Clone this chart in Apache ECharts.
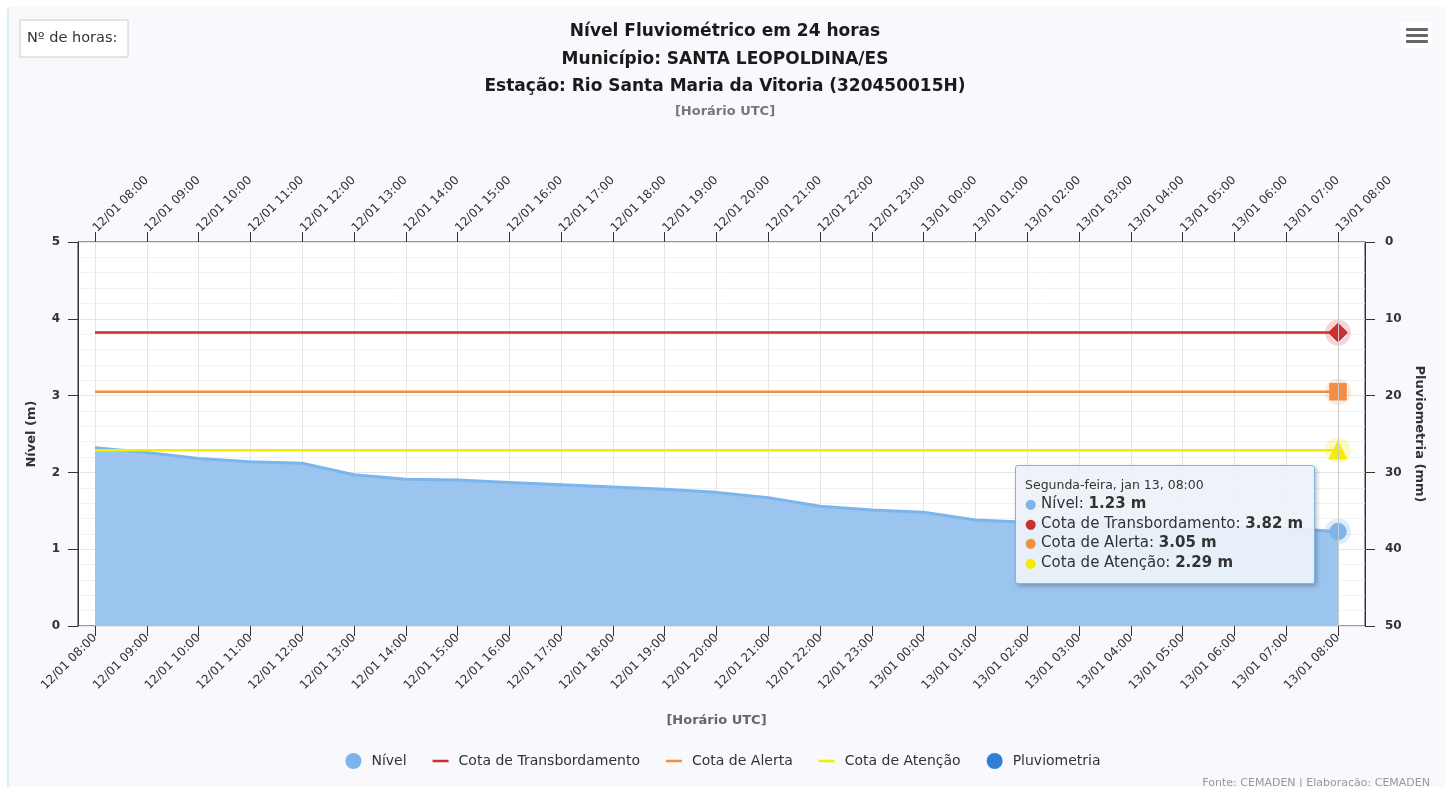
<!DOCTYPE html>
<html>
<head>
<meta charset="utf-8">
<script src="https://cdn.jsdelivr.net/npm/echarts@6/dist/echarts.min.js"></script>
<style>
html,body{margin:0;padding:0;background:#fff;width:1446px;height:787px;overflow:hidden;}
#bg{position:absolute;left:7px;top:7px;right:0;bottom:0;background:#f8f8fd;border-left:2px solid #d5eef6;border-top-left-radius:4px;}
#chart{position:absolute;left:0;top:0;width:1446px;height:787px;}
</style>
</head>
<body>
<div id="bg"></div>
<div id="chart"></div>
<script>
const categories = ['12/01 08:00','12/01 09:00','12/01 10:00','12/01 11:00','12/01 12:00','12/01 13:00','12/01 14:00','12/01 15:00','12/01 16:00','12/01 17:00','12/01 18:00','12/01 19:00','12/01 20:00','12/01 21:00','12/01 22:00','12/01 23:00','13/01 00:00','13/01 01:00','13/01 02:00','13/01 03:00','13/01 04:00','13/01 05:00','13/01 06:00','13/01 07:00','13/01 08:00'];
const nivel = [2.32,2.26,2.18,2.14,2.12,1.97,1.91,1.90,1.87,1.84,1.81,1.78,1.74,1.67,1.56,1.51,1.48,1.38,1.35,1.34,1.32,1.30,1.29,1.27,1.23];
const cotaTransbordamento = [3.82,3.82,3.82,3.82,3.82,3.82,3.82,3.82,3.82,3.82,3.82,3.82,3.82,3.82,3.82,3.82,3.82,3.82,3.82,3.82,3.82,3.82,3.82,3.82,3.82];
const cotaAlerta = [3.05,3.05,3.05,3.05,3.05,3.05,3.05,3.05,3.05,3.05,3.05,3.05,3.05,3.05,3.05,3.05,3.05,3.05,3.05,3.05,3.05,3.05,3.05,3.05,3.05];
const cotaAtencao = [2.29,2.29,2.29,2.29,2.29,2.29,2.29,2.29,2.29,2.29,2.29,2.29,2.29,2.29,2.29,2.29,2.29,2.29,2.29,2.29,2.29,2.29,2.29,2.29,2.29];
const pluviometria = [0,0,0,0,0,0,0,0,0,0,0,0,0,0,0,0,0,0,0,0,0,0,0,0,0];
const nivelTicks = [0,1,2,3,4,5];
const pluvioTicks = [0,10,20,30,40,50];
const titleLines = ['Nível Fluviométrico em 24 horas', 'Município: SANTA LEOPOLDINA/ES', 'Estação: Rio Santa Maria da Vitoria (320450015H)'];
const tooltipHeader = 'Segunda-feira, jan 13, 08:00';

const FONT = "'DejaVu Sans', 'Noto Sans', sans-serif";
const C_NIVEL = '#7cb5ec', C_TRANS = '#cc2f2f', C_ALERTA = '#f28f43', C_ATENC = '#f5ec00', C_PLUV = '#2f7ed8';
const last = categories.length - 1;
const LINE_ICON = 'path://M0,0 L16,0 L16,2.5 L0,2.5 Z';

function lastSymbol(arr, symbol, size, color) {
  return arr.map((v, i) => i === last ? {value: v, symbol: symbol, symbolSize: size, itemStyle: {color: color, borderColor: color}} : v);
}
function halo(arr, color) {
  return {type: 'scatter', xAxisIndex: 1, yAxisIndex: 1, silent: true, z: 2, symbolSize: 26,
    itemStyle: {color: color}, emphasis: {disabled: true}, tooltip: {show: false},
    data: [[categories[last], arr[last]]]};
}

const chart = echarts.init(document.getElementById('chart'), null, {renderer: 'canvas'});
const titleGraphics = titleLines.map((t, i) => ({
  type: 'text', x: 725, y: 32 + i * 27.5,
  style: {text: t, fontSize: 17, fontWeight: 'bold', fill: '#1a1a1a', fontFamily: FONT, align: 'center', verticalAlign: 'middle'}
}));
const option = {
  animation: false,
  backgroundColor: 'transparent',
  textStyle: {fontFamily: FONT},
  legend: {
    top: 748, left: 'center', itemGap: 26, itemWidth: 16, itemHeight: 16,
    textStyle: {fontSize: 14, color: '#333', fontFamily: FONT, padding: [0, 0, 0, 5]},
    data: [
      {name: 'Nível', icon: 'circle', itemStyle: {color: C_NIVEL}},
      {name: 'Cota de Transbordamento', icon: LINE_ICON, itemStyle: {color: C_TRANS}},
      {name: 'Cota de Alerta', icon: LINE_ICON, itemStyle: {color: C_ALERTA}},
      {name: 'Cota de Atenção', icon: LINE_ICON, itemStyle: {color: C_ATENC}},
      {name: 'Pluviometria', icon: 'circle', itemStyle: {color: C_PLUV}}
    ]
  },
  tooltip: {
    trigger: 'axis', triggerOn: 'none', alwaysShowContent: true,
    position: [1015, 465],
    backgroundColor: 'rgba(238,242,249,0.92)', borderColor: '#7cb5ec', borderWidth: 1,
    padding: [10, 11, 10, 9],
    extraCssText: 'box-shadow:2px 2px 4px rgba(0,0,0,0.25);border-radius:3px;',
    axisPointer: {type: 'line', lineStyle: {color: '#cccccc', width: 1, type: 'solid'}},
    formatter: function () {
      const row = (c, n, v) => `<div style="font-size:15px;line-height:19.7px;color:#333"><span style="color:${c};font-size:13px">●</span> ${n}: <b>${v.toFixed(2)} m</b></div>`;
      return `<div style="font-family:DejaVu Sans, sans-serif"><div style="font-size:12.5px;color:#333;line-height:18px">${tooltipHeader}</div>` +
        row(C_NIVEL, 'Nível', nivel[last]) +
        row(C_TRANS, 'Cota de Transbordamento', cotaTransbordamento[last]) +
        row(C_ALERTA, 'Cota de Alerta', cotaAlerta[last]) +
        row(C_ATENC, 'Cota de Atenção', cotaAtencao[last]) + '</div>';
    }
  },
  grid: [
    {left: 78, right: 81, top: 242, bottom: 161, show: true, backgroundColor: '#ffffff', borderColor: '#333', borderWidth: 1, z: 0},
    {left: 95, right: 108, top: 242, bottom: 161}
  ],
  xAxis: [
    {gridIndex: 0, type: 'value', min: 0, max: 1, show: false},
    {gridIndex: 1, type: 'category', data: categories, boundaryGap: false, position: 'bottom',
     axisLine: {show: false}, axisTick: {show: true, inside: false, length: 10, lineStyle: {color: '#333'}},
     axisLabel: {rotate: 45, fontSize: 12, color: '#333', margin: 10, interval: 0, fontFamily: FONT},
     splitLine: {show: true, lineStyle: {color: '#e6e6e6'}},
     name: '[Horário UTC]', nameLocation: 'middle', nameGap: 88,
     nameTextStyle: {fontSize: 13, fontWeight: 'bold', color: '#666', fontFamily: FONT}},
    {gridIndex: 1, type: 'category', data: categories, boundaryGap: false, position: 'top',
     axisLine: {show: false}, axisTick: {show: true, length: 10, lineStyle: {color: '#333'}},
     axisLabel: {rotate: 45, fontSize: 12, color: '#333', margin: 12, interval: 0, fontFamily: FONT},
     splitLine: {show: false}}
  ],
  yAxis: [
    {gridIndex: 0, type: 'value', min: nivelTicks[0], max: nivelTicks[nivelTicks.length - 1], interval: 1,
     axisLine: {show: false}, axisTick: {show: false}, axisLabel: {show: false},
     splitLine: {show: true, lineStyle: {color: '#e6e6e6'}},
     minorTick: {show: false, splitNumber: 5},
     minorSplitLine: {show: true, lineStyle: {color: '#f2f2f2'}}},
    {gridIndex: 1, type: 'value', min: nivelTicks[0], max: nivelTicks[nivelTicks.length - 1], interval: 1, position: 'left', offset: 17,
     axisLine: {show: true, lineStyle: {color: '#333'}}, axisTick: {show: true, length: 10, lineStyle: {color: '#333'}},
     axisLabel: {fontSize: 12, color: '#333', margin: 18, fontWeight: 'bold', fontFamily: FONT},
     splitLine: {show: false},
     name: 'Nível (m)', nameLocation: 'middle', nameGap: 40, nameRotate: 90,
     nameTextStyle: {fontSize: 13, fontWeight: 'bold', color: '#333', fontFamily: FONT}},
    {gridIndex: 1, type: 'value', min: pluvioTicks[0], max: pluvioTicks[pluvioTicks.length - 1], interval: 10, inverse: true, position: 'right', offset: 27,
     axisLine: {show: true, lineStyle: {color: '#333'}}, axisTick: {show: true, length: 10, lineStyle: {color: '#333'}},
     axisLabel: {fontSize: 12, color: '#333', margin: 20, fontWeight: 'bold', fontFamily: FONT},
     splitLine: {show: false},
     name: 'Pluviometria (mm)', nameLocation: 'middle', nameGap: 46, nameRotate: -90,
     nameTextStyle: {fontSize: 13, fontWeight: 'bold', color: '#333', fontFamily: FONT}}
  ],
  series: [
    {name: 'Nível', type: 'line', xAxisIndex: 1, yAxisIndex: 1, z: 3, symbol: 'none', showSymbol: true,
     lineStyle: {color: C_NIVEL, width: 3}, itemStyle: {color: C_NIVEL},
     areaStyle: {color: '#9bc5ee', opacity: 1}, emphasis: {disabled: true},
     data: lastSymbol(nivel, 'circle', 15, C_NIVEL)},
    {name: 'Cota de Transbordamento', type: 'line', xAxisIndex: 1, yAxisIndex: 1, z: 4, symbol: 'none', showSymbol: true,
     lineStyle: {color: C_TRANS, width: 2.5}, itemStyle: {color: C_TRANS}, emphasis: {disabled: true},
     data: lastSymbol(cotaTransbordamento, 'diamond', 17, C_TRANS)},
    {name: 'Cota de Alerta', type: 'line', xAxisIndex: 1, yAxisIndex: 1, z: 4, symbol: 'none', showSymbol: true,
     lineStyle: {color: C_ALERTA, width: 2.5}, itemStyle: {color: C_ALERTA}, emphasis: {disabled: true},
     data: lastSymbol(cotaAlerta, 'rect', 15, C_ALERTA)},
    {name: 'Cota de Atenção', type: 'line', xAxisIndex: 1, yAxisIndex: 1, z: 4, symbol: 'none', showSymbol: true,
     lineStyle: {color: C_ATENC, width: 2.5}, itemStyle: {color: C_ATENC}, emphasis: {disabled: true},
     data: lastSymbol(cotaAtencao, 'triangle', 16, C_ATENC)},
    {name: 'Pluviometria', type: 'bar', xAxisIndex: 1, yAxisIndex: 2, itemStyle: {color: C_PLUV}, data: pluviometria},
    halo(nivel, 'rgba(124,181,236,0.3)'),
    halo(cotaTransbordamento, 'rgba(204,47,47,0.25)'),
    halo(cotaAlerta, 'rgba(242,143,67,0.25)'),
    halo(cotaAtencao, 'rgba(245,236,0,0.3)')
  ],
  graphic: titleGraphics.concat([
    {type: 'text', x: 725, y: 112, style: {text: '[Horário UTC]', fontSize: 13, fontWeight: 'bold', fill: '#777', fontFamily: FONT, align: 'center', verticalAlign: 'middle'}},
    {type: 'rect', shape: {x: 20, y: 20, width: 108, height: 37}, style: {fill: '#fff', stroke: '#cccccc', lineWidth: 1}},
    {type: 'text', x: 27, y: 38, style: {text: 'Nº de horas:', fontSize: 14.5, fill: '#333', fontFamily: FONT, verticalAlign: 'middle'}},
    {type: 'rect', shape: {x: 1401, y: 22, width: 31, height: 26}, style: {fill: '#fff'}},
    {type: 'rect', shape: {x: 1406, y: 28, width: 22, height: 3, r: 1}, style: {fill: '#666'}},
    {type: 'rect', shape: {x: 1406, y: 34, width: 22, height: 3, r: 1}, style: {fill: '#666'}},
    {type: 'rect', shape: {x: 1406, y: 40, width: 22, height: 3, r: 1}, style: {fill: '#666'}},
    {type: 'text', x: 1430, y: 783, style: {text: 'Fonte: CEMADEN | Elaboração: CEMADEN', fontSize: 11, fill: '#999', fontFamily: FONT, align: 'right', verticalAlign: 'middle'}}
  ])
};
chart.setOption(option);
chart.dispatchAction({type: 'showTip', seriesIndex: 0, dataIndex: last});
</script>
</body>
</html>
